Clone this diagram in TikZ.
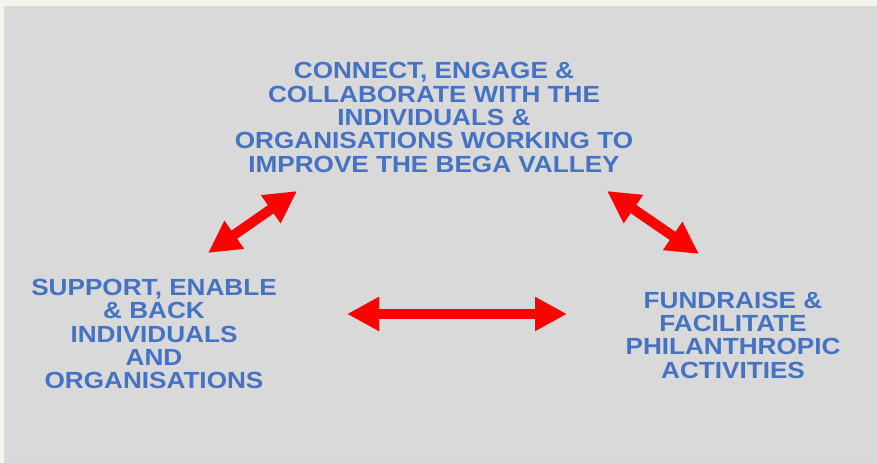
\documentclass[tikz,border=0pt]{standalone}
\usepackage{fontspec}
\setmainfont[FakeStretch=1.12]{Liberation Sans}
\usetikzlibrary{arrows.meta}
\definecolor{bgGrey}{HTML}{D9D9D9}
\definecolor{edgeWhite}{HTML}{F3F3EE}
\definecolor{txtBlue}{HTML}{4472C4}

\begin{document}
\begin{tikzpicture}[x=0.75pt,y=-0.75pt,
  goal/.style={text=txtBlue, align=center, inner sep=0pt,
    font=\bfseries\fontsize{17.5}{17.5}\selectfont},
  twoway/.style={red, line width=7.5pt,
    {Triangle[length=24pt,width=24pt]}-{Triangle[length=24pt,width=24pt]}}]

  % Page and panel
  \useasboundingbox (0,0) rectangle (877,463);
  \fill[edgeWhite] (0,0) rectangle (877,463);
  \fill[bgGrey] (3.5,6) rectangle (877,463);

  % The three aims
  \node[goal] (connect) at (434,117.5)
    {CONNECT, ENGAGE \&\\COLLABORATE WITH THE\\INDIVIDUALS \&\\ORGANISATIONS WORKING TO\\IMPROVE THE BEGA VALLEY};
  \node[goal] (support) at (154,334)
    {SUPPORT, ENABLE\\\& BACK\\INDIVIDUALS\\AND\\ORGANISATIONS};
  \node[goal] (fundraise) at (733,335)
    {FUNDRAISE \&\\FACILITATE\\PHILANTHROPIC\\ACTIVITIES};

  % Arrow ends
  \coordinate (leftLow) at (208,253);
  \coordinate (leftHigh) at (297,191);
  \coordinate (rightHigh) at (607,191);
  \coordinate (rightLow) at (699,254);
  \coordinate (midWest) at (347,314);
  \coordinate (midEast) at (567,314);

  % Two-way arrows
  \draw[twoway] (leftLow) -- (leftHigh);
  \draw[twoway] (rightHigh) -- (rightLow);
  \draw[twoway] (midWest) -- (midEast);

\end{tikzpicture}
\end{document}
